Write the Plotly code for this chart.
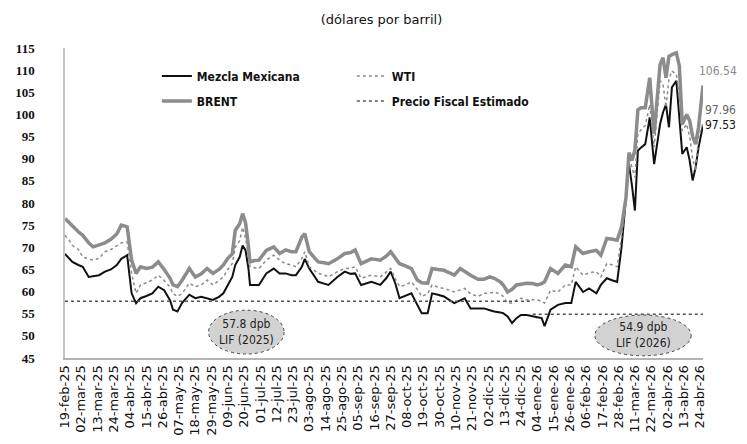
import plotly.graph_objects as go
import pandas as pd

dates = [
    "2025-02-19", "2025-02-22", "2025-02-24", "2025-02-28",
    "2025-03-03", "2025-03-07", "2025-03-10", "2025-03-14", "2025-03-18", "2025-03-22", "2025-03-26", "2025-03-29",
    "2025-04-02", "2025-04-05", "2025-04-08", "2025-04-11", "2025-04-15", "2025-04-19", "2025-04-23", "2025-04-27",
    "2025-05-01", "2025-05-03", "2025-05-06", "2025-05-09", "2025-05-14", "2025-05-18", "2025-05-22", "2025-05-26", "2025-05-30",
    "2025-06-03", "2025-06-06", "2025-06-09", "2025-06-12", "2025-06-14", "2025-06-17", "2025-06-19", "2025-06-21", "2025-06-23", "2025-06-24", "2025-06-27", "2025-06-30",
    "2025-07-05", "2025-07-10", "2025-07-14", "2025-07-18", "2025-07-22", "2025-07-25", "2025-07-29", "2025-07-31",
    "2025-08-03", "2025-08-09", "2025-08-13", "2025-08-16", "2025-08-22", "2025-08-27", "2025-08-31",
    "2025-09-03", "2025-09-07", "2025-09-11", "2025-09-14", "2025-09-20", "2025-09-24", "2025-09-27", "2025-09-30",
    "2025-10-03", "2025-10-07", "2025-10-11", "2025-10-15", "2025-10-18", "2025-10-22", "2025-10-25", "2025-10-29",
    "2025-11-02", "2025-11-06", "2025-11-09", "2025-11-13", "2025-11-16", "2025-11-20", "2025-11-25", "2025-11-29",
    "2025-12-03", "2025-12-06", "2025-12-10", "2025-12-12", "2025-12-15", "2025-12-18", "2025-12-21", "2025-12-24", "2025-12-28",
    "2026-01-01", "2026-01-04", "2026-01-07", "2026-01-09", "2026-01-13", "2026-01-18", "2026-01-23", "2026-01-27", "2026-01-30",
    "2026-02-04", "2026-02-08", "2026-02-13", "2026-02-16", "2026-02-20", "2026-02-24", "2026-02-27",
    "2026-03-02", "2026-03-05", "2026-03-07", "2026-03-09", "2026-03-11", "2026-03-13", "2026-03-15", "2026-03-18", "2026-03-21", "2026-03-24", "2026-03-28", "2026-03-30",
    "2026-04-01", "2026-04-03", "2026-04-05", "2026-04-08", "2026-04-10", "2026-04-12", "2026-04-15", "2026-04-17", "2026-04-19", "2026-04-21", "2026-04-23", "2026-04-26",
]

mezcla = [
    68.5, 67.5, 66.7, 66.0,
    65.6, 63.3, 63.5, 63.7, 64.5, 65.0, 66.0, 67.4,
    68.2, 59.6, 57.4, 58.5, 59.0, 59.6, 61.1, 60.3,
    58.0, 55.9, 55.5, 57.4, 59.3, 58.5, 58.8, 58.5, 58.1,
    58.8, 59.6, 61.5, 63.3, 66.0, 67.8, 70.4, 69.3, 65.0, 61.5, 61.5, 61.5,
    64.1, 65.2, 64.1, 64.1, 63.7, 63.7, 65.6, 67.4,
    65.2, 62.2, 61.8, 61.5, 63.3, 64.5, 64.0,
    64.1, 61.5, 62.0, 62.2, 61.5, 63.0, 64.5, 62.0,
    58.5, 59.0, 59.6, 57.0, 55.1, 55.1, 59.6, 59.3,
    58.9, 58.0, 57.4, 58.0, 58.5, 56.2, 56.2, 56.2,
    55.8, 55.5, 55.3, 55.1, 54.4, 52.9, 54.0, 54.7, 54.7,
    54.5, 54.2, 54.0, 52.2, 55.9, 57.0, 57.4, 57.4, 62.2,
    59.9, 60.7, 59.6, 61.5, 63.0, 62.5, 62.2,
    70.1, 81.3, 88.8, 84.0, 78.3, 91.8, 92.5, 93.3, 99.3, 88.8, 97.8, 100.5,
    102.2, 97.1, 106.1, 107.6, 100.0, 91.1, 92.6, 89.6, 85.1, 88.0, 92.6, 97.53,
]

wti = [
    72.7, 71.5, 70.4, 69.5,
    67.8, 67.3, 67.1, 67.5, 69.0, 69.5, 70.3, 71.0,
    71.2, 64.1, 59.6, 61.5, 62.0, 62.6, 63.7, 62.5,
    61.0, 59.5, 58.9, 59.5, 61.9, 61.1, 61.5, 62.6, 61.5,
    62.5, 63.3, 65.0, 66.3, 70.0, 71.5, 74.5, 72.0, 68.0, 65.6, 65.4, 65.2,
    67.1, 68.2, 67.1, 66.3, 66.0, 65.6, 67.5, 69.0,
    65.6, 64.1, 63.8, 63.3, 64.5, 65.2, 65.3,
    65.6, 63.0, 63.5, 63.7, 63.3, 64.5, 65.2, 63.0,
    61.1, 61.5, 62.2, 60.5, 58.9, 59.5, 61.5, 61.0,
    60.7, 60.3, 59.9, 60.3, 60.7, 59.5, 58.9, 59.6,
    59.6, 59.9, 59.5, 58.9, 57.4, 57.4, 58.1, 58.5, 58.1,
    58.2, 58.1, 57.8, 57.4, 60.3, 59.9, 61.5, 61.5, 65.6,
    63.7, 64.2, 64.5, 63.3, 66.3, 66.0, 65.6,
    72.3, 82.1, 91.1, 88.0, 85.8, 95.6, 96.5, 97.5, 102.2, 92.6, 107.6, 106.8,
    101.6, 108.0, 109.8, 109.1, 104.0, 96.3, 97.8, 95.0, 90.0, 87.3, 94.8, 97.96,
]

brent = [
    76.5, 75.5, 74.6, 73.5,
    72.7, 71.0, 70.1, 70.5, 71.0, 71.8, 73.0, 75.0,
    74.6, 67.1, 64.1, 65.6, 65.2, 65.5, 66.7, 65.0,
    63.0, 61.5, 61.1, 62.5, 65.2, 63.3, 64.0, 65.2, 64.1,
    65.0, 66.0, 67.5, 68.5, 73.8, 75.3, 77.6, 75.5, 70.0, 66.7, 67.0, 67.1,
    69.3, 70.1, 68.6, 69.4, 69.0, 69.0, 72.3, 73.1,
    69.0, 66.7, 66.5, 66.3, 67.4, 68.6, 68.8,
    69.4, 66.3, 67.0, 67.4, 67.1, 68.0, 69.0, 67.5,
    66.3, 65.8, 65.2, 62.6, 62.0, 61.9, 65.2, 65.0,
    64.8, 64.2, 63.7, 65.2, 64.5, 63.7, 62.8, 62.8,
    63.3, 63.0, 62.2, 61.5, 59.9, 60.5, 61.5, 61.7, 61.9,
    61.8, 61.5, 61.8, 62.2, 65.2, 64.1, 66.0, 65.6, 70.1,
    68.6, 69.0, 69.3, 68.2, 72.0, 71.8, 71.6,
    74.6, 81.3, 91.4, 89.6, 92.0, 101.0, 101.5, 101.5, 108.3, 95.6, 111.3, 112.8,
    108.3, 113.1, 113.5, 113.9, 111.0, 97.8, 100.0, 98.6, 95.0, 93.3, 97.1, 106.54,
]

fiscal_dates = ["2025-02-19", "2025-12-31", "2025-12-31", "2026-01-01", "2026-04-26"]
fiscal_values = [57.8, 57.8, None, 54.9, 54.9]

tick_labels = [
    "19-feb-25", "02-mar-25", "13-mar-25", "24-mar-25", "04-abr-25", "15-abr-25", "26-abr-25",
    "07-may-25", "18-may-25", "29-may-25", "09-jun-25", "20-jun-25", "01-jul-25", "12-jul-25",
    "23-jul-25", "03-ago-25", "14-ago-25", "25-ago-25", "05-sep-25", "16-sep-25", "27-sep-25",
    "08-oct-25", "19-oct-25", "30-oct-25", "10-nov-25", "21-nov-25", "02-dic-25", "13-dic-25",
    "24-dic-25", "04-ene-26", "15-ene-26", "26-ene-26", "06-feb-26", "17-feb-26", "28-feb-26",
    "11-mar-26", "22-mar-26", "02-abr-26", "13-abr-26", "24-abr-26",
]
tick_dates = pd.date_range("2025-02-19", periods=len(tick_labels), freq="11D")

assert len(dates) == len(mezcla) == len(wti) == len(brent)

narrow = "DejaVu Sans Condensed, Liberation Sans Narrow, Arial Narrow, sans-serif"
legend_font = dict(family=narrow, size=12, color="#111111", weight="bold")

fig = go.Figure()
fig.add_trace(go.Scatter(x=dates, y=mezcla, name="Mezcla Mexicana", mode="lines",
                         line=dict(color="#111111", width=2), legend="legend"))
fig.add_trace(go.Scatter(x=dates, y=wti, name="WTI", mode="lines",
                         line=dict(color="#8a8a8a", width=1.5, dash="dot"), legend="legend"))
fig.add_trace(go.Scatter(x=dates, y=brent, name="BRENT", mode="lines",
                         line=dict(color="#8c8c8c", width=3.5), legend="legend2"))
fig.add_trace(go.Scatter(x=fiscal_dates, y=fiscal_values, name="Precio Fiscal Estimado", mode="lines",
                         line=dict(color="#555555", width=1.5, dash="dot"), legend="legend2",
                         connectgaps=False))

# Ellipse callouts
ellipses = [
    ("2025-05-27", "2025-07-17", 45.9, 55.8, "57.8 dpb<br>LIF (2025)"),
    ("2026-02-12", "2026-04-18", 45.5, 54.7, "54.9 dpb<br>LIF (2026)"),
]
for x0, x1, y0, y1, txt in ellipses:
    fig.add_shape(type="circle", xref="x", yref="y", x0=x0, x1=x1, y0=y0, y1=y1,
                  fillcolor="#d2d2d2", line=dict(color="#444444", width=1, dash="dot"), layer="above")
    xm = pd.Timestamp(x0) + (pd.Timestamp(x1) - pd.Timestamp(x0)) / 2
    fig.add_annotation(x=xm, y=(y0 + y1) / 2, xref="x", yref="y", text=txt, showarrow=False,
                       font=dict(family=narrow, size=12, color="#222222"))

# End-value labels
end_labels = [
    (brent[-1], "#8a8a8a", 14, -6),
    (wti[-1], "#666666", 13, 0),
    (mezcla[-1], "#111111", 0, 0),
]
for val, col, ys, xs in end_labels:
    fig.add_annotation(x=dates[-1], y=val, xref="x", yref="y", text=f"{val:.2f}", showarrow=False,
                       xanchor="left", yanchor="middle", xshift=xs, yshift=ys,
                       font=dict(family=narrow, size=12, color=col))

fig.update_layout(
    width=747, height=444,
    margin=dict(l=57, r=52, t=40, b=94, autoexpand=False),
    paper_bgcolor="white", plot_bgcolor="white",
    title=dict(text="(dólares por barril)", x=0.5, xanchor="center", y=0.975, yanchor="middle",
               font=dict(family="DejaVu Sans, sans-serif", size=13, color="#111111")),
    legend=dict(orientation="h", x=0.144, y=0.91, xanchor="left", yanchor="middle",
                entrywidth=150, font=legend_font, bgcolor="rgba(0,0,0,0)", itemclick=False),
    legend2=dict(orientation="h", x=0.144, y=0.829, xanchor="left", yanchor="middle",
                 entrywidth=150, font=legend_font, bgcolor="rgba(0,0,0,0)", itemclick=False),
    xaxis=dict(type="date", range=["2025-02-19", "2026-04-26"], tickmode="array",
               tickvals=tick_dates, ticktext=tick_labels, tickangle=-90, automargin=False,
               tickfont=dict(family="DejaVu Sans, sans-serif", size=13, color="#111111"),
               showgrid=False, zeroline=False, showline=True, linecolor="#b4b4b4", linewidth=2,
               ticks=""),
    yaxis=dict(range=[45, 115], dtick=5, tick0=45, showgrid=False, zeroline=False,
               showline=True, linecolor="#c4c4c4", linewidth=1.5, ticks="", automargin=False,
               ticklabelstandoff=26,
               tickfont=dict(family="Liberation Serif, DejaVu Serif, serif", size=13,
                             color="#111111", weight="bold")),
)

fig.write_html("out.html")
